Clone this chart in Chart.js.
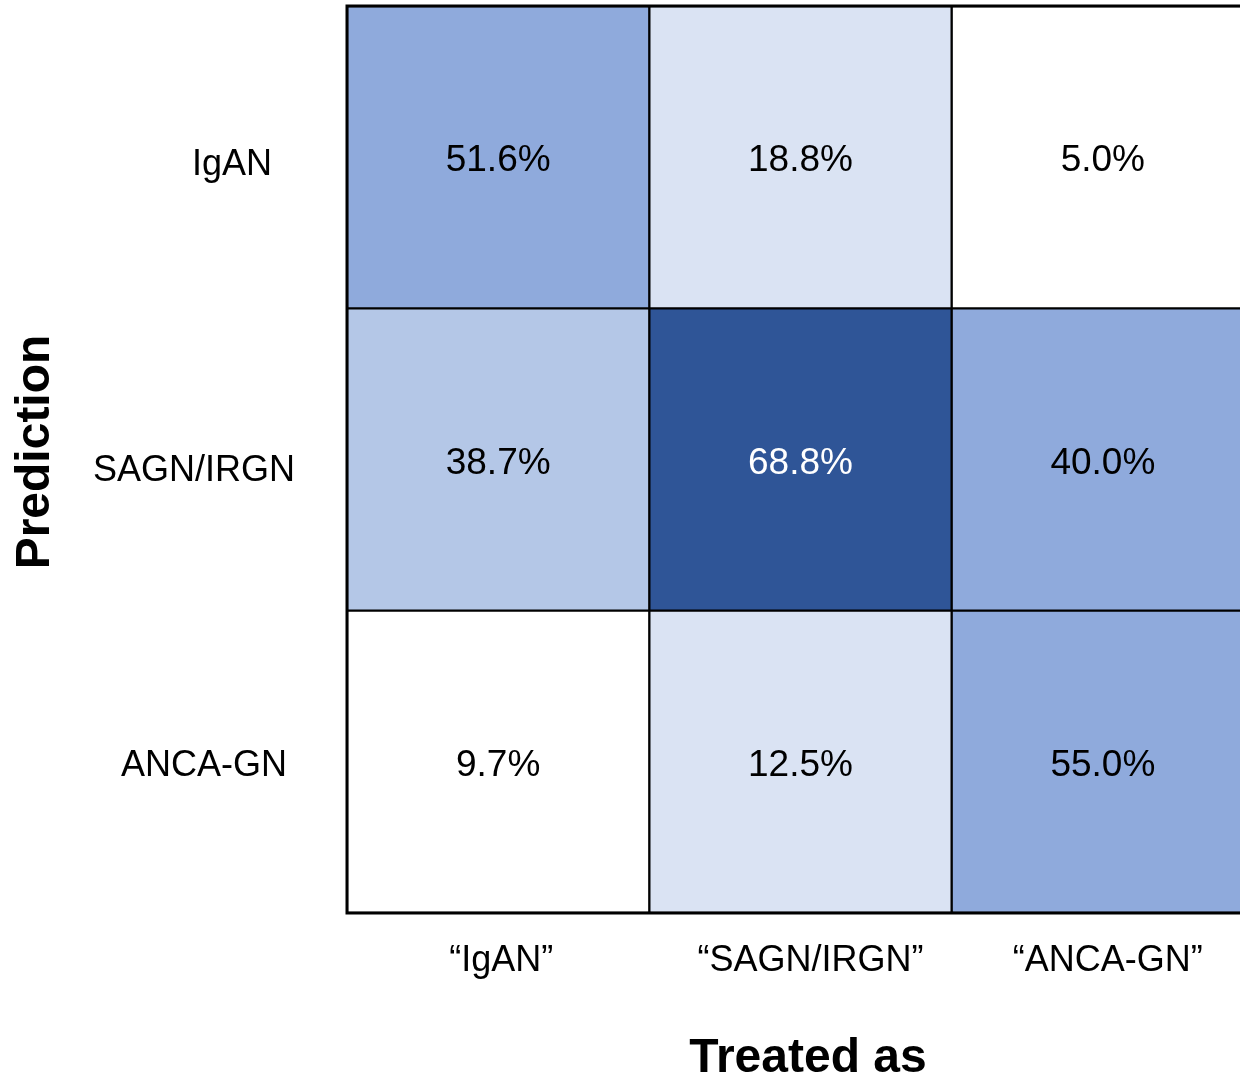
<!DOCTYPE html>
<html>
<head>
<meta charset="utf-8">
<script src="https://cdn.jsdelivr.net/npm/chart.js@4"></script>
<style>
  html, body { margin: 0; padding: 0; background: #fff; overflow: hidden; }
  #wrap { width: 1260px; height: 1081px; }
</style>
</head>
<body>
<div id="wrap"><canvas id="heat" width="1260" height="1081"></canvas></div>
<script>
// Cột: "Treated as", hàng: "Prediction"
const treatedLabels = ['\u201CIgAN\u201D', '\u201CSAGN/IRGN\u201D', '\u201CANCA-GN\u201D'];
const predictionLabels = ['IgAN', 'SAGN/IRGN', 'ANCA-GN'];

// Phần trăm theo từng hàng
const rowIgAN = [51.6, 18.8, 5.0];
const rowSAGN = [38.7, 68.8, 40.0];
const rowANCA = [9.7, 12.5, 55.0];
const rows = [rowIgAN, rowSAGN, rowANCA];

/**
 * Màu ô theo giá trị
 */
function cellColor(v) {
    if (v < 10) return '#ffffff';
    if (v < 20) return '#DAE3F3';
    if (v < 40) return '#B4C7E7';
    if (v < 60) return '#8FAADC';
    return '#2F5597';
}

const FONT = '"Liberation Sans", Arial, sans-serif';

// Vẽ nhãn, giá trị và khung ngoài
const labelPlugin = {
    id: 'heatLabels',
    afterDatasetsDraw(chart) {
        const { ctx, chartArea, scales } = chart;
        const x = scales.x, y = scales.y;
        ctx.save();

        // khung ngoài
        ctx.strokeStyle = '#000';
        ctx.lineWidth = 3;
        ctx.strokeRect(chartArea.left, chartArea.top, chartArea.right - chartArea.left, chartArea.bottom - chartArea.top);

        // giá trị trong ô
        ctx.font = '37px ' + FONT;
        ctx.textAlign = 'center';
        ctx.textBaseline = 'middle';
        rows.forEach((row, r) => {
            row.forEach((v, c) => {
                ctx.fillStyle = v >= 60 ? '#ffffff' : '#000000';
                ctx.fillText(v.toFixed(1) + '%', x.getPixelForValue(c), y.getPixelForValue(r + 0.5) + 4);
            });
        });

        // nhãn hàng
        ctx.fillStyle = '#000';
        ctx.font = '36px ' + FONT;
        const rowCx = [232, 194, 204];
        const rowDy = [8, 12, 4];
        predictionLabels.forEach((lab, r) => {
            ctx.fillText(lab, rowCx[r], y.getPixelForValue(r + 0.5) + rowDy[r]);
        });

        // nhãn cột
        const colDx = [3, 10, 5];
        treatedLabels.forEach((lab, c) => {
            ctx.fillText(lab, x.getPixelForValue(c) + colDx[c], chartArea.bottom + 48);
        });

        // tiêu đề trục
        ctx.font = 'bold 48px ' + FONT;
        ctx.fillText('Treated as', 808, chartArea.bottom + 146);
        ctx.translate(36, 452);
        ctx.rotate(-Math.PI / 2);
        ctx.fillText('Prediction', 0, 0);
        ctx.restore();
    }
};

const datasets = rows.map((row, r) => ({
    label: predictionLabels[r],
    data: row.map(() => [r, r + 1]),
    backgroundColor: row.map(cellColor),
    borderColor: '#000000',
    borderWidth: 1.5,
    borderSkipped: false,
    categoryPercentage: 1,
    barPercentage: 1,
    grouped: false
}));

new Chart(document.getElementById('heat').getContext('2d'), {
    type: 'bar',
    data: { labels: treatedLabels, datasets: datasets },
    options: {
        responsive: false,
        animation: false,
        layout: { padding: { left: 347, right: 6, top: 6, bottom: 168 } },
        scales: {
            x: { display: false, offset: true },
            y: { display: false, min: 0, max: 3, reverse: true }
        },
        plugins: {
            legend: { display: false },
            tooltip: { enabled: false }
        }
    },
    plugins: [labelPlugin]
});
</script>
</body>
</html>
